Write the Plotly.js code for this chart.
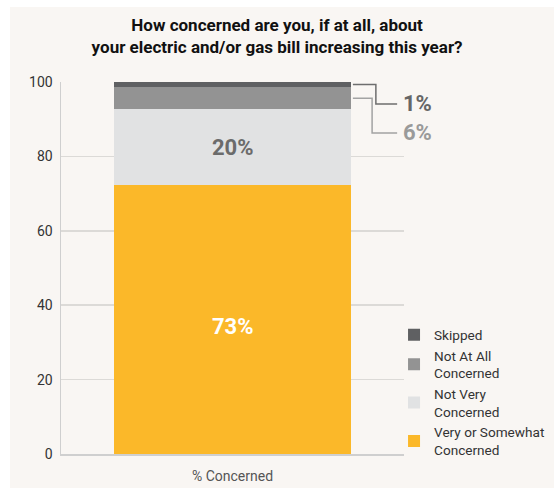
<!DOCTYPE html>
<html>
<head>
<meta charset="utf-8">
<script src="https://cdn.plot.ly/plotly-3.0.1.min.js"></script>
<style>
  html, body { margin: 0; padding: 0; background: #ffffff; }
  #chart { position: absolute; left: 10px; top: 7px; width: 544px; height: 481px; }
</style>
</head>
<body>
<div id="chart"></div>
<script>
// ---- data ----
const categories = ["% Concerned"];
const seriesNames = ["Very or Somewhat<br>Concerned", "Not Very<br>Concerned", "Not At All<br>Concerned", "Skipped"];
const veryOrSomewhat = [72.3];
const notVery = [20.4];
const notAtAll = [5.9];
const skipped = [1.4];
const valueLabels = ["73%", "20%", "6%", "1%"];
const yTicks = [0, 20, 40, 60, 80, 100];

// ---- styles ----
const colors = ["#fbb829", "#e1e2e3", "#939393", "#5f6062"];
const FONT = "Roboto, 'Open Sans', sans-serif";

const seriesValues = [veryOrSomewhat, notVery, notAtAll, skipped];
const traces = seriesValues.map((vals, i) => ({
  type: "bar",
  x: categories,
  y: vals,
  name: seriesNames[i],
  marker: { color: colors[i], line: { width: 0 } },
  width: 0.69,
  hoverinfo: "skip"
}));

// cumulative positions from the data
const bases = [];
let acc = 0;
seriesValues.forEach(v => { bases.push(acc); acc += v[0]; });
const mids = seriesValues.map((v, i) => bases[i] + v[0] / 2);

const annotations = [
  { x: categories[0], y: mids[0], yshift: -7, text: valueLabels[0], showarrow: false,
    font: { family: FONT, size: 22, color: "#ffffff", weight: 700 } },
  { x: categories[0], y: mids[1], text: valueLabels[1], showarrow: false,
    font: { family: FONT, size: 22, color: "#6b6b6b", weight: 700 } },
  { xref: "paper", x: 0.991, y: 86.3, xanchor: "left", text: valueLabels[2], showarrow: false,
    font: { family: FONT, size: 22, color: "#9a9a9a", weight: 700 } },
  { xref: "paper", x: 0.991, y: 94.1, xanchor: "left", text: valueLabels[3], showarrow: false,
    font: { family: FONT, size: 22, color: "#666666", weight: 700 } }
];

const barRight = 0.851;
const shapes = [
  { type: "path", xref: "paper", yref: "y",
    path: `M ${barRight} ${mids[3]} L 0.918 ${mids[3]} L 0.918 94.1 L 0.98 94.1`,
    line: { color: "#6e6e6e", width: 1.5 } },
  { type: "path", xref: "paper", yref: "y",
    path: `M ${barRight} ${mids[2]} L 0.907 ${mids[2]} L 0.907 86.3 L 0.98 86.3`,
    line: { color: "#a3a3a3", width: 1.5 } }
];

const layout = {
  width: 544,
  height: 481,
  paper_bgcolor: "#f9f6f3",
  plot_bgcolor: "#f9f6f3",
  margin: { l: 51, r: 150, t: 75, b: 34 },
  barmode: "stack",
  bargap: 0,
  font: { family: FONT, size: 14, color: "#333333" },
  title: {
    text: "How concerned are you, if at all, about<br>your electric and/or gas bill increasing this year?",
    font: { family: FONT, size: 17, color: "#111111", weight: 700 },
    xref: "container", x: 0.491, xanchor: "center",
    yref: "container", y: 0.95, yanchor: "top"
  },
  xaxis: {
    type: "category",
    range: [-0.5, 0.5],
    showgrid: false,
    showline: true, linecolor: "#cfcfcf", linewidth: 1.5,
    ticks: "",
    ticklabelstandoff: 9,
    tickfont: { family: FONT, size: 14, color: "#555555" },
    fixedrange: true
  },
  yaxis: {
    range: [0, 100],
    tickvals: yTicks,
    ticktext: yTicks.map(String),
    showgrid: true, gridcolor: "#dcdad7", gridwidth: 1.5,
    showline: true, linecolor: "#cfcfcf", linewidth: 1.5,
    zeroline: false,
    ticks: "",
    ticklabelstandoff: 4,
    tickfont: { family: FONT, size: 14, color: "#333333" },
    fixedrange: true
  },
  legend: {
    xref: "container", x: 0.728, xanchor: "left",
    yref: "container", y: 0.047, yanchor: "bottom",
    indentation: -12,
    traceorder: "reversed",
    bgcolor: "rgba(0,0,0,0)",
    font: { family: FONT, size: 13.6, color: "#333333" },
    itemwidth: 30
  },
  annotations: annotations,
  shapes: shapes,
  showlegend: true
};

Plotly.newPlot("chart", traces, layout, { displayModeBar: false, staticPlot: true });
</script>
</body>
</html>
